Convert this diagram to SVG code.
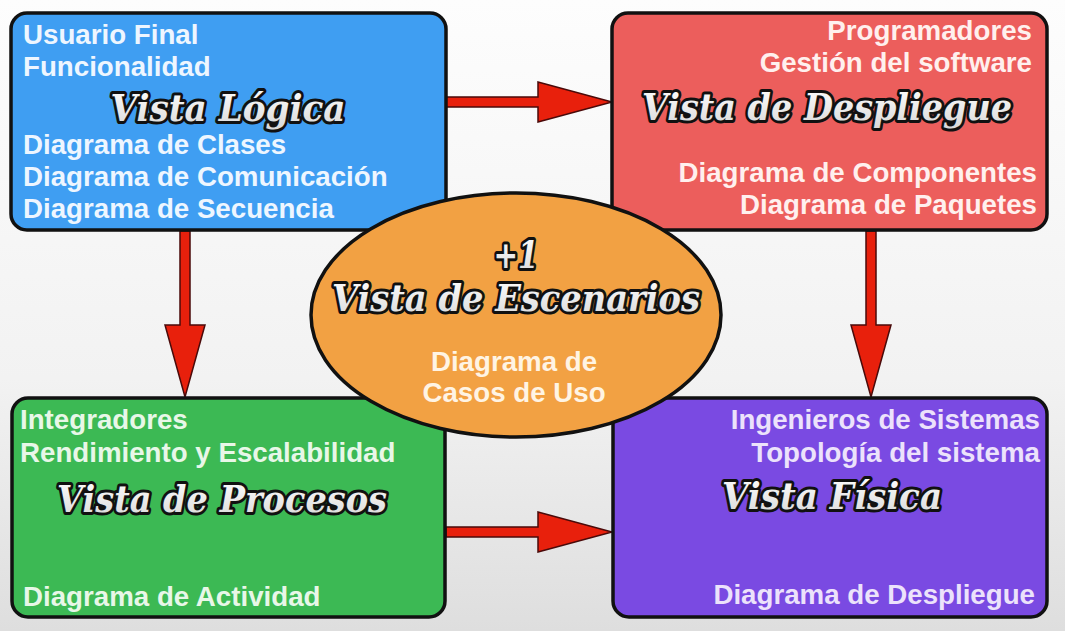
<svg xmlns="http://www.w3.org/2000/svg" width="1065" height="631" viewBox="0 0 1065 631">
<defs>
<linearGradient id="bg" x1="0" y1="0" x2="0" y2="1">
<stop offset="0" stop-color="#fdfdfd"/>
<stop offset="0.6" stop-color="#f2f2f2"/>
<stop offset="1" stop-color="#dedede"/>
</linearGradient>
<linearGradient id="tf" x1="0" y1="0" x2="0" y2="1">
<stop offset="0" stop-color="#ffffff"/>
<stop offset="1" stop-color="#d8d8d8"/>
</linearGradient>
<style>
.box{stroke:#111;stroke-width:3.5}
.title{font-family:"DejaVu Serif",serif;font-weight:bold;font-style:italic;font-size:37px;fill:url(#tf);stroke:#111;stroke-width:6;stroke-linejoin:round;paint-order:stroke fill;text-anchor:middle}
.t{font-family:"Liberation Sans",Arial,sans-serif;font-weight:bold;font-size:27.7px}
.r{text-anchor:end}
.m{text-anchor:middle}
.arrow{fill:#e8200c;stroke:#4a0a0a;stroke-width:1.5;stroke-linejoin:miter}
</style>
</defs>
<rect x="0" y="0" width="1065" height="631" fill="url(#bg)"/>
<g id="connectors">
<polygon class="arrow" points="446,97 538,97 538,82 612,102 538,122 538,107 446,107"/>
<polygon class="arrow" points="446,527 538,527 538,512 612,532 538,552 538,537 446,537"/>
<polygon class="arrow" points="180,231 190,231 190,325 205,325 185,397 165,325 180,325"/>
<polygon class="arrow" points="866,231 876,231 876,325 891,325 871,397 851,325 866,325"/>
</g>
<g id="vista-logica">
<rect class="box" x="11" y="13" width="435" height="217" rx="16" fill="#3f9ef2"/>
<g class="t" fill="#eef6ff">
<text x="23" y="44">Usuario Final</text>
<text x="23" y="76">Funcionalidad</text>
<text x="23" y="154">Diagrama de Clases</text>
<text x="23" y="186">Diagrama de Comunicación</text>
<text x="23" y="218">Diagrama de Secuencia</text>
</g>
<text class="title" x="228" y="121" textLength="235" lengthAdjust="spacingAndGlyphs">Vista Lógica</text>
</g>
<g id="vista-despliegue">
<rect class="box" x="612" y="13" width="435" height="217" rx="16" fill="#ec5e5c"/>
<g class="t r" fill="#fff0ee">
<text x="1032" y="40">Programadores</text>
<text x="1032" y="72">Gestión del software</text>
<text x="1037" y="182">Diagrama de Componentes</text>
<text x="1037" y="214">Diagrama de Paquetes</text>
</g>
<text class="title" x="827" y="120" textLength="370" lengthAdjust="spacingAndGlyphs">Vista de Despliegue</text>
</g>
<g id="vista-procesos">
<rect class="box" x="12" y="398" width="433" height="219" rx="16" fill="#3cb954"/>
<g class="t" fill="#e8f7e8">
<text x="20" y="429">Integradores</text>
<text x="20" y="462">Rendimiento y Escalabilidad</text>
<text x="23" y="606">Diagrama de Actividad</text>
</g>
<text class="title" x="222" y="512" textLength="330" lengthAdjust="spacingAndGlyphs">Vista de Procesos</text>
</g>
<g id="vista-fisica">
<rect class="box" x="613" y="398" width="434" height="219" rx="16" fill="#7a4ae2"/>
<g class="t r" fill="#ece2fb">
<text x="1040" y="429">Ingenieros de Sistemas</text>
<text x="1040" y="462">Topología del sistema</text>
<text x="1035" y="604">Diagrama de Despliegue</text>
</g>
<text class="title" x="832" y="509" textLength="220" lengthAdjust="spacingAndGlyphs">Vista Física</text>
</g>
<g id="vista-escenarios">
<ellipse class="box" cx="516" cy="315" rx="205" ry="122" fill="#f2a143"/>
<text class="title" x="516" y="268" textLength="45" lengthAdjust="spacingAndGlyphs">+1</text>
<text class="title" x="516" y="311" textLength="368" lengthAdjust="spacingAndGlyphs">Vista de Escenarios</text>
<g class="t m" fill="#fff4e4">
<text x="514" y="371">Diagrama de</text>
<text x="514" y="402">Casos de Uso</text>
</g>
</g>
</svg>
